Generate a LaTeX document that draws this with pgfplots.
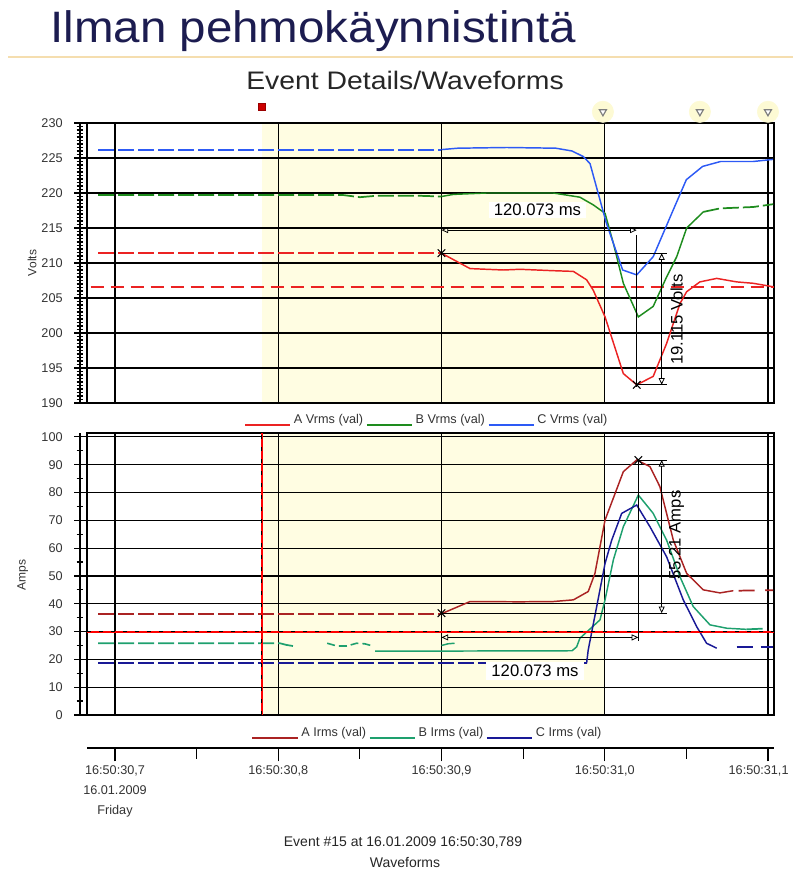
\documentclass[border=0pt]{standalone}
\usepackage{fontspec}
\setmainfont{Liberation Sans}
\usepackage{graphicx}
\usepackage{pgfplots}
\pgfplotsset{compat=1.18}
\usetikzlibrary{arrows.meta}

\definecolor{redV}{RGB}{235,35,35}
\definecolor{greenV}{RGB}{30,140,30}
\definecolor{blueV}{RGB}{45,90,245}
\definecolor{redI}{RGB}{170,35,35}
\definecolor{greenI}{RGB}{30,160,110}
\definecolor{blueI}{RGB}{25,25,150}
\definecolor{bgY}{RGB}{255,253,226}
\definecolor{glowY}{RGB}{253,250,212}
\definecolor{titleC}{RGB}{28,28,80}
\definecolor{lineO}{RGB}{245,222,175}

\pgfplotsset{
  dataaxis/.style={
    set layers, scale only axis, anchor=south west, clip=false,
    width=515.25pt, xmin=-17.15, xmax=403.7,
    xtick={0,100,200,300,400}, xticklabels={}, yticklabels={},
    tick style={draw=none}, grid=major,
    major grid style={black, line width=0.9pt},
    axis line style={black, line width=1.3pt},
    legend style={draw=none, fill=none, font=\fontsize{9.5}{11}\selectfont, text=black!80,
      inner sep=0pt, outer sep=0pt, column sep=0pt},
    legend cell align=left,
    legend columns=3,
    legend image code/.code={\draw[#1, solid, line width=1.4pt] (0pt,-3.5pt) -- (34pt,-3.5pt);},
  },
  yaxisonly/.style={
    scale only axis, anchor=south west, width=1pt, xmin=0, xmax=1,
    axis y line*=left, hide x axis, tick align=center,
    major tick length=9pt, minor tick length=5pt,
    tick style={black, line width=0.9pt},
    y axis line style={line width=2.2pt},
    yticklabel style={font=\fontsize{9.5}{11}\selectfont, text=black!80, xshift=-5pt},
    /pgf/number format/assume math mode=true},
  dashd/.style={line width=1.3pt, dash pattern=on 12pt off 3pt, forget plot},
  dim/.style={black, line width=0.6pt, forget plot},
  dimarr/.style={black, line width=0.6pt, forget plot, {Triangle[open,length=5pt,width=4.5pt]}-{Triangle[open,length=5pt,width=4.5pt]}},
  xmk/.style={black, only marks, mark=x, mark size=4pt, mark options={line width=0.8pt}, forget plot},
}

\begin{document}
\begin{tikzpicture}

% slide title
\draw[lineO, line width=1.5pt] (6pt,611.25pt) -- (594.75pt,611.25pt);
\node[anchor=base west, text=titleC, font=\fontsize{33}{38}\selectfont, inner sep=0pt] at (37.5pt,621.75pt) {\scalebox{1.08}[1]{Ilman pehmokäynnistintä}};
\node[font=\fontsize{19}{22}\selectfont, text=black!85] at (303.75pt,594pt) {\scalebox{1.12}[1]{Event Details/Waveforms}};

% ---------------- Volts panel ----------------
\begin{axis}[dataaxis, at={(65.25pt,351.75pt)}, height=210pt,
  ymin=190, ymax=230, ytick={190,195,...,230},
  legend style={at={(0.495,-0.061)}, anchor=center}]
\addplot[fill=bgY, draw=none, on layer=axis background, forget plot] coordinates {(90,230) (300,230)} \closedcycle;
% event markers above the panel
\addplot[only marks, mark=*, mark size=8pt, glowY, mark options={draw=glowY, fill=glowY}, forget plot] coordinates {(298.9,231.6) (358.3,231.6) (400,231.6)};
\addplot[only marks, mark=triangle*, mark size=3pt, gray, mark options={rotate=180, draw=gray, fill=white, line width=0.9pt}, forget plot] coordinates {(298.9,231.6) (358.3,231.6) (400,231.6)};
\addplot[only marks, mark=square*, mark size=2.5pt, red!70!black, mark options={draw=red!60!black, fill=red!80!black}, forget plot] coordinates {(90,232.3)};
\addplot[redV, line width=1.3pt, dash pattern=on 10pt off 5pt, forget plot] coordinates {(-15,206.6) (403.7,206.6)};
% C Vrms (dashed, pre-trigger)
\addplot[draw=blueV, line width=1.5pt, dash pattern=on 12pt off 3pt, forget plot] coordinates {(-10.4,226.2) (200,226.2)};
% A Vrms
\addplot[redV, dashd] coordinates {(-10.4,211.4) (200,211.4)};
\addplot[redV, line width=1.1pt] coordinates {
(200,211.4) (217.5,209.2) (237.9,209.0) (248.1,209.1) (268.5,208.9) (280.8,208.8) (288.9,207.6) (293,206.1)
(300.2,202.3) (311.4,194.2) (319.6,192.6) (329.7,193.8) (337.9,198.5) (346.1,204.2) (350.2,205.9)
(358.3,207.3) (368.6,207.8) (380.8,207.3) (391,207.1) (403.2,206.6)};
\addlegendentry{A Vrms (val)}
% B Vrms
\addplot[greenV, dashd] coordinates {
(-10.4,219.7) (140,219.7) (150,219.4) (160,219.6) (186.8,219.6) (200,219.5)};
\addplot[greenV, line width=1.1pt] coordinates {
(200,219.5) (207.3,219.8) (227.7,220.0) (268.5,220.0) (284.8,219.4) (293,218.3) (300.2,217.1)
(305.3,212.8) (311.4,207.1) (320.6,202.3) (329.7,203.8) (337.9,208.0) (344.1,210.9) (350.2,215.0) (360.4,217.3)};
\addlegendentry{B Vrms (val)}
\addplot[greenV, dashd] coordinates {
(360.4,217.3) (370.6,217.8) (391,218.0) (403.2,218.4)};
% C Vrms
\addplot[blueV, line width=1.1pt] coordinates {
(200,226.2) (210,226.4) (240,226.5) (270,226.4) (280,226.0) (286.9,225.2) (291,224.2) (301,215.7)
(311,209.0) (319.6,208.3) (329.7,210.9) (342,217.6) (350,221.9) (360,223.8) (371,224.5) (391,224.5) (403,224.8)};
\addlegendentry{C Vrms (val)}
% cursors / dimensions
\addplot[dim] coordinates {(200,211.4) (338,211.4)};
\addplot[dim] coordinates {(319.6,192.6) (338,192.6)};
\addplot[dim] coordinates {(319.6,214.0) (319.6,192.3)};
\addplot[dimarr] coordinates {(200,214.7) (319.6,214.7)};
\addplot[dimarr] coordinates {(334.9,211.4) (334.9,192.6)};
\addplot[xmk] coordinates {(200,211.4) (319.6,192.6)};
\node[fill=white, inner xsep=4pt, inner ysep=1.5pt, font=\fontsize{12.5}{14}\selectfont] at (axis cs:258.8,217.6) {120.073 ms};
\node[rotate=90, font=\fontsize{12.5}{14}\selectfont] at (axis cs:344,201.9) {19.115 Volts};
\end{axis}
\begin{axis}[yaxisonly, at={(60pt,351.75pt)}, height=210pt,
  ymin=190, ymax=230, ytick={190,195,...,230}, minor y tick num=9]
\addplot[draw=none] coordinates {(0,190) (1,230)};
\end{axis}

% ---------------- Amps panel ----------------
\begin{axis}[dataaxis, at={(65.25pt,117.75pt)}, height=211.5pt,
  ymin=0, ymax=101.4, ytick={0,10,...,100},
  legend style={at={(0.496,-0.064)}, anchor=center}]
\addplot[fill=bgY, draw=none, on layer=axis background, forget plot] coordinates {(90,101.4) (300,101.4)} \closedcycle;
% A Irms
\addplot[redI, dashd] coordinates {(-10.4,36.4) (200,36.4)};
\addplot[redI, line width=1.1pt] coordinates {
(200,36.4) (217.5,40.8) (248.1,40.7) (268.5,40.8) (280.8,41.4) (289.9,44.4) (294,50.9) (300.2,70.1)
(311.4,87.5) (319.6,91.7) (327.7,89.3) (333.8,82.1) (342,62.9) (350.2,50.9) (360.4,45.0) (370.6,43.9) (378.8,44.7)};
\addlegendentry{A Irms (val)}
\addplot[redI, line width=1.3pt, dash pattern=on 12pt off 8pt, forget plot] coordinates {(382,44.7) (403.2,44.9)};
% C Irms (drawn before label box)
\addplot[blueI, line width=1.5pt, dash pattern=on 12pt off 3pt, forget plot] coordinates {(-10.4,18.6) (288.9,18.6)};
% B Irms
\addplot[greenI, dashd] coordinates {
(-10.4,25.8) (101,25.8) (105,25.2) (109,24.8)};
\addplot[greenI, line width=1.2pt, dash pattern=on 6pt off 3pt, forget plot] coordinates {
(130,25.8) (136,24.8) (142,24.8) (148,25.8) (153,25.6) (158,24.8)};
\addplot[greenI, line width=1.1pt, forget plot] coordinates {(200,25.0) (204,25.6) (208,25.8)};
\addplot[greenI, line width=1.1pt] coordinates {
(159.3,23.0) (199,23.0) (209,23.0) (280,23.1) (282.8,24.5) (284.8,27.6) (297.1,34.2) (300.2,41.4)
(305.3,55.8) (311.4,67.7) (320.6,79.1) (329.7,72.5) (337.9,62.9) (346.1,49.7) (354.2,39.0)
(364.5,32.4) (374.7,31.2) (386.9,30.8)};
\addlegendentry{B Irms (val)}
\addplot[greenI, line width=1.3pt, dash pattern=on 12pt off 8pt, forget plot] coordinates {(386.9,30.8) (403.2,31.2)};
% C Irms
\addplot[blueI, line width=1.1pt] coordinates {
(288.9,18.6) (289.9,23.4) (295.1,39.0) (300.2,54.5) (304.3,62.9) (310.4,72.5) (319.6,75.5) (327.7,67.7)
(337.9,56.9) (348.1,41.4) (356.3,31.8) (362.4,25.8) (368.6,24.0)};
\addlegendentry{C Irms (val)}
\addplot[blueI, line width=1.3pt, dash pattern=on 12pt off 6pt, forget plot] coordinates {(380.8,24.4) (403.2,24.4)};
% trigger lines
\addplot[red, line width=1.5pt, forget plot] coordinates {(-17,30) (403.7,30)};
\addplot[black, line width=0.8pt, dash pattern=on 3pt off 6pt, forget plot] coordinates {(-17,30) (403.7,30)};
\addplot[red, line width=1.5pt, forget plot] coordinates {(90,0) (90,101.4)};
\addplot[black, line width=0.8pt, dash pattern=on 3pt off 6pt, forget plot] coordinates {(90,0) (90,101.4)};
% cursors / dimensions
\addplot[dim] coordinates {(200,36.6) (338,36.6)};
\addplot[dim] coordinates {(320.6,91.7) (338,91.7)};
\addplot[dim] coordinates {(320.6,91.7) (320.6,26.5)};
\addplot[dimarr] coordinates {(200,27.9) (320.6,27.9)};
\addplot[dimarr] coordinates {(334.9,91.7) (334.9,36.6)};
\addplot[xmk] coordinates {(200,36.6) (320.6,91.7)};
\node[fill=white, inner xsep=4pt, inner ysep=2pt, font=\fontsize{12.5}{14}\selectfont] at (axis cs:257.3,15.8) {120.073 ms};
\node[rotate=90, font=\fontsize{12.5}{14}\selectfont] at (axis cs:344,64.7) {55.21 Amps};
\end{axis}
\begin{axis}[yaxisonly, at={(60pt,117.75pt)}, height=211.5pt,
  ymin=0, ymax=101.4, ytick={0,10,...,100}, minor y tick num=1]
\addplot[draw=none] coordinates {(0,0) (1,100)};
\end{axis}

% ---------------- time axis ----------------
\begin{axis}[scale only axis, anchor=south west, at={(65.25pt,93pt)},
  width=515.25pt, height=1pt, xmin=-17.15, xmax=403.7, ymin=0, ymax=1,
  hide y axis, axis x line*=bottom,
  x axis line style={line width=2.2pt},
  xtick={0,100,200,300,400}, minor xtick={50,150,250,350},
  tick align=outside, major tick length=10pt, minor tick length=8pt,
  tick style={black, line width=0.9pt},
  xticklabels={{16:50:30,7\\16.01.2009\\Friday},{16:50:30,8},{16:50:30,9},{16:50:31,0},{\kern-14pt 16:50:31,1}},
  xticklabel style={align=center, font=\fontsize{9.5}{15}\selectfont, text=black!80}]
\addplot[draw=none] coordinates {(0,0) (400,1)};
\end{axis}

% axis titles and footer
\node[rotate=90, font=\fontsize{9}{11}\selectfont, text=black!80] at (24pt,456.75pt) {Volts};
\node[rotate=90, font=\fontsize{9}{11}\selectfont, text=black!80] at (17pt,222.75pt) {Amps};
\node[font=\fontsize{10.5}{12}\selectfont, text=black!85] at (302.25pt,21.75pt) {Event \#15 at 16.01.2009 16:50:30,789};
\node[font=\fontsize{10.5}{12}\selectfont, text=black!85] at (303.75pt,6.75pt) {Waveforms};

\pgfresetboundingbox
\path[use as bounding box] (0,0) rectangle (594.75pt,654pt);
\end{tikzpicture}
\end{document}
